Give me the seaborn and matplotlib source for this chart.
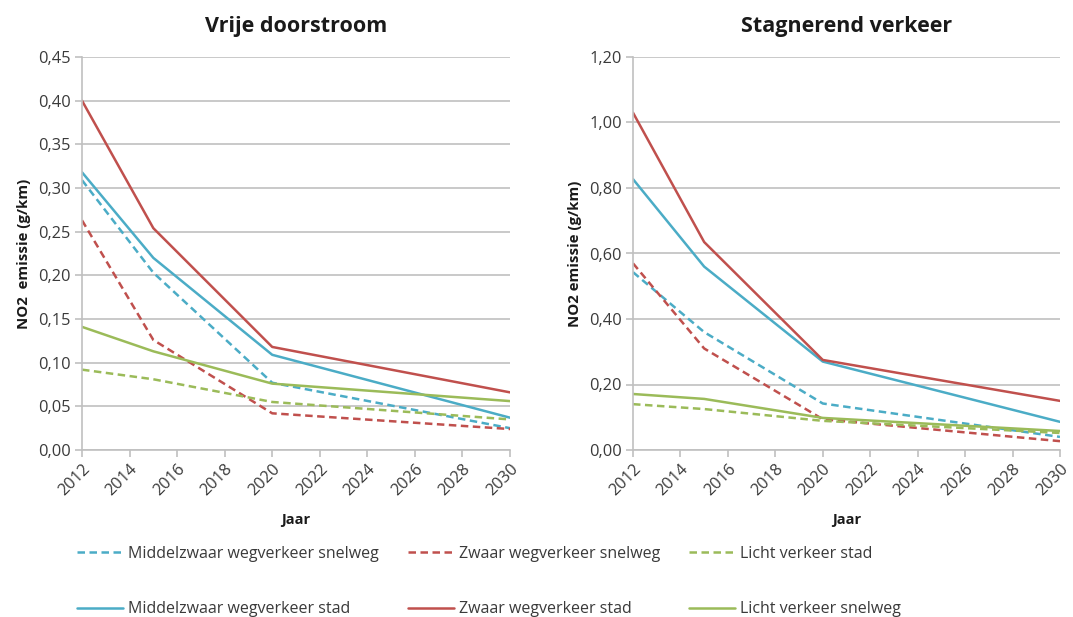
import numpy as np
import pandas as pd
import matplotlib
matplotlib.use("Agg")
import matplotlib.pyplot as plt
from matplotlib.ticker import FuncFormatter, MultipleLocator
import seaborn as sns


# =========================
# DATA
# =========================

years = [2012, 2015, 2020, 2030]

series_labels = [
    "Middelzwaar wegverkeer snelweg",
    "Middelzwaar wegverkeer stad",
    "Zwaar wegverkeer snelweg",
    "Zwaar wegverkeer stad",
    "Licht verkeer stad",
    "Licht verkeer snelweg",
]

# Vrije doorstroom
mz_snelweg_vrij = [0.309, 0.203, 0.077, 0.025]
mz_stad_vrij = [0.318, 0.220, 0.109, 0.037]
z_snelweg_vrij = [0.263, 0.126, 0.042, 0.024]
z_stad_vrij = [0.400, 0.254, 0.118, 0.066]
l_stad_vrij = [0.092, 0.081, 0.055, 0.035]
l_snelweg_vrij = [0.141, 0.113, 0.076, 0.056]

# Stagnerend verkeer
mz_snelweg_stag = [0.543, 0.360, 0.142, 0.040]
mz_stad_stag = [0.827, 0.560, 0.270, 0.086]
z_snelweg_stag = [0.570, 0.310, 0.094, 0.027]
z_stad_stag = [1.030, 0.635, 0.275, 0.150]
l_stad_stag = [0.140, 0.125, 0.089, 0.052]
l_snelweg_stag = [0.171, 0.156, 0.098, 0.058]

panel_titles = ["Vrije doorstroom", "Stagnerend verkeer"]
y_labels = ["NO2  emissie (g/km)", "NO2 emissie (g/km)"]
y_max = [0.45, 1.20]
y_step = [0.05, 0.20]


# =========================
# STYLE
# =========================

BLUE = "#4bacc6"
RED = "#c0504d"
GREEN = "#9bbb59"
GRID = "#c0c0c0"
TEXT = "#3a3a3a"

series_colors = [BLUE, BLUE, RED, RED, GREEN, GREEN]
series_dashed = [True, False, True, False, True, False]

sns.set_theme(style="white")
plt.rcParams["font.family"] = ["Open Sans", "DejaVu Sans"]

panels = [
    [mz_snelweg_vrij, mz_stad_vrij, z_snelweg_vrij,
     z_stad_vrij, l_stad_vrij, l_snelweg_vrij],
    [mz_snelweg_stag, mz_stad_stag, z_snelweg_stag,
     z_stad_stag, l_stad_stag, l_snelweg_stag],
]

fig = plt.figure(figsize=(10.73, 6.17), dpi=100)
W, H = 1073, 617
axes = [
    fig.add_axes([82 / W, 1 - 450 / H, (510 - 82) / W, (450 - 57) / H]),
    fig.add_axes([633 / W, 1 - 450 / H, (1060 - 633) / W, (450 - 57) / H]),
]

comma = FuncFormatter(lambda v, p: f"{v:.2f}".replace(".", ","))

handles = []
for i, ax in enumerate(axes):
    for vals, label, color, dashed in zip(panels[i], series_labels,
                                          series_colors, series_dashed):
        sns.lineplot(x=years, y=vals, ax=ax, color=color, lw=1.8,
                     label=label, legend=False)
        line = ax.get_lines()[-1]
        if dashed:
            line.set_dashes((3, 1.8))
        if i == 0:
            handles.append(line)

    ax.set_xlim(2012, 2030)
    ax.set_ylim(0, y_max[i])
    ax.xaxis.set_major_locator(MultipleLocator(2))
    ax.yaxis.set_major_locator(MultipleLocator(y_step[i]))
    ax.yaxis.set_major_formatter(comma)

    ax.grid(axis="y", color=GRID, lw=1.2)
    ax.set_axisbelow(True)
    for s in ["top", "right"]:
        ax.spines[s].set_visible(False)
    for s in ["left", "bottom"]:
        ax.spines[s].set_color(GRID)
        ax.spines[s].set_linewidth(1.2)

    ax.tick_params(axis="both", which="major", length=5, width=1.2,
                   color=GRID, labelsize=11.8, labelcolor=TEXT,
                   bottom=True, left=True, pad=3)
    plt.setp(ax.get_xticklabels(), rotation=45, ha="right",
             rotation_mode="anchor")

    ax.set_title(panel_titles[i], fontsize=15.5, fontweight="bold",
                 color="#1a1a1a", pad=18)
    ax.set_xlabel("Jaar", fontsize=10.5, fontweight="bold",
                  color="#1a1a1a", labelpad=10)
    ax.set_ylabel(y_labels[i], fontsize=10.8, fontweight="bold",
                  color="#1a1a1a", labelpad=5)

# legend: column-wise fill -> (snelweg/stad) pairs per column
fig.legend(
    handles=handles,
    labels=series_labels,
    loc="upper left",
    bbox_to_anchor=(77 / W, 1 - 546 / H),
    ncol=3,
    frameon=False,
    fontsize=11.5,
    handlelength=2.9,
    handletextpad=0.3,
    columnspacing=1.8,
    labelspacing=2.45,
    borderpad=0,
    borderaxespad=0,
    labelcolor=TEXT,
)

fig.savefig("out.png", dpi=100)
